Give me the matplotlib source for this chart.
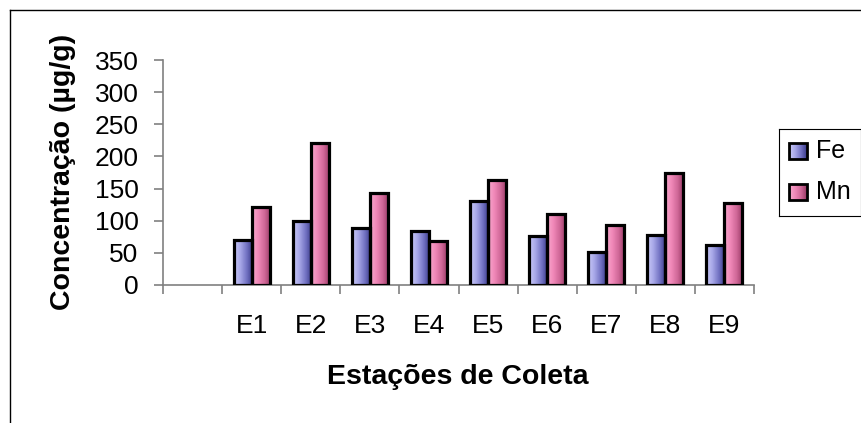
import numpy as np
import matplotlib
matplotlib.use('Agg')
from matplotlib import pyplot as plt
from matplotlib.patches import Rectangle
from matplotlib.lines import Line2D

plt.rcParams['font.family'] = ['Liberation Sans', 'DejaVu Sans']

# chart data
stations = ['', 'E1', 'E2', 'E3', 'E4', 'E5', 'E6', 'E7', 'E8', 'E9']
fe_values = [0, 70, 100, 88, 84, 131, 76, 51, 78, 62]
mn_values = [0, 122, 221, 143, 69, 163, 110, 94, 175, 127]
series_names = ['Fe', 'Mn']
y_ticks = [0, 50, 100, 150, 200, 250, 300, 350]

W, H = 862, 423
fe_grad = ['#cacaf8', '#a8a8e8', '#7474c4', '#3c3c8c']
mn_grad = ['#f8aace', '#f088b8', '#d06898', '#9a3a66']


def make_cmap(cols):
    return matplotlib.colors.LinearSegmentedColormap.from_list('g', cols)


def gradient_bar(ax, x, h, width, cmap):
    if h <= 0:
        return
    bar = ax.bar(x, h, width, facecolor='none', edgecolor='black',
                 linewidth=2.3, zorder=3)[0]
    grad = np.linspace(0, 1, 64).reshape(1, -1)
    im = ax.imshow(grad, cmap=cmap, aspect='auto', zorder=2,
                   extent=(x - width / 2, x + width / 2, 0, h))
    im.set_clip_path(bar)


def main():
    fig = plt.figure(figsize=(W / 100, H / 100), dpi=100)
    ax = fig.add_axes([163 / W, 1 - 285 / H, 591 / W, 225 / H])

    bw = 0.305
    fe_cmap = make_cmap(fe_grad)
    mn_cmap = make_cmap(mn_grad)
    for i in range(len(stations)):
        gradient_bar(ax, i - bw / 2, fe_values[i], bw, fe_cmap)
        gradient_bar(ax, i + bw / 2, mn_values[i], bw, mn_cmap)

    n = len(stations)
    ax.set_xlim(-0.5, n - 0.5)
    ax.set_ylim(0, 350)
    ax.set_xticks(np.arange(-0.5, n, 1.0))
    ax.set_xticklabels([])
    ax.set_xticks(np.arange(n), minor=True)
    ax.set_xticklabels(stations, minor=True, fontsize=19)
    ax.tick_params(axis='x', which='minor', length=0, pad=21)
    ax.tick_params(axis='x', which='major', length=6.5, width=1.2,
                   color='#808080', direction='out')
    ax.set_yticks(y_ticks)
    ax.set_yticklabels([str(v) for v in y_ticks], fontsize=19)
    ax.tick_params(axis='y', length=6.5, width=1.2, color='#808080', pad=11)

    for s in ['top', 'right']:
        ax.spines[s].set_visible(False)
    for s in ['left', 'bottom']:
        ax.spines[s].set_color('#808080')
        ax.spines[s].set_linewidth(1.2)
    ax.patch.set_alpha(0)

    fig.text(458 / W, 1 - 377 / H, 'Estações de Coleta', fontsize=20.5,
             fontweight='bold', ha='center', va='center')
    fig.text(63 / W, 1 - 172 / H, 'Concentração (µg/g)', fontsize=20.5,
             fontweight='bold', ha='center', va='center', rotation=90)

    # outer chart frame (left and top edges)
    fig.add_artist(Line2D([10 / W, 10 / W], [0, 1 - 10 / H], color='black',
                          linewidth=1.0, transform=fig.transFigure))
    fig.add_artist(Line2D([10 / W, 1], [1 - 10 / H, 1 - 10 / H],
                          color='black', linewidth=1.0,
                          transform=fig.transFigure))

    # legend box
    lax = fig.add_axes([779 / W, 1 - 216 / H, 82 / W, 87 / H])
    lax.set_xticks([])
    lax.set_yticks([])
    for s in lax.spines.values():
        s.set_color('black')
        s.set_linewidth(0.8)
    grad = np.linspace(0, 1, 32).reshape(1, -1)
    for k, (name, cm) in enumerate(zip(series_names, [fe_cmap, mn_cmap])):
        yc = 22 + k * 41
        lax.imshow(grad, cmap=cm, aspect='auto',
                   extent=(10, 28, yc + 8, yc - 8), zorder=2)
        lax.add_patch(Rectangle((10, yc - 8), 18, 16, facecolor='none',
                                edgecolor='black', linewidth=2.0, zorder=3))
        lax.text(37, yc, name, fontsize=18, va='center', ha='left')
    lax.set_xlim(0, 82)
    lax.set_ylim(87, 0)

    fig.savefig('out.png', dpi=100)
    plt.close(fig)


if __name__ == '__main__':
    main()
